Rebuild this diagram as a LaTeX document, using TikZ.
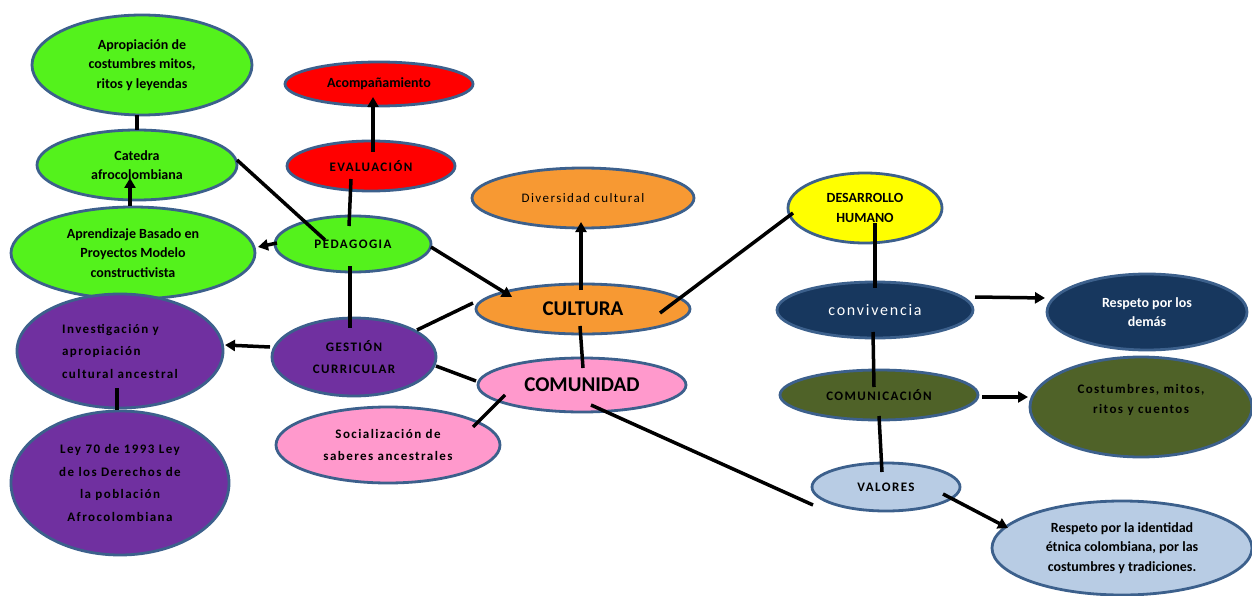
\documentclass[tikz,border=0pt]{standalone}
\usepackage{fontspec}
\setmainfont{Carlito}
\newfontfamily\spfont{Carlito}[LetterSpace=11]
\usetikzlibrary{shapes.geometric,arrows.meta,calc}
\definecolor{bordc}{RGB}{60,96,140}
\definecolor{cgreen}{RGB}{84,242,28}
\definecolor{cred}{RGB}{255,0,0}
\definecolor{corange}{RGB}{247,153,51}
\definecolor{cpurple}{RGB}{112,48,160}
\definecolor{cpink}{RGB}{255,153,204}
\definecolor{cyellow}{RGB}{255,255,0}
\definecolor{cnavy}{RGB}{23,55,94}
\definecolor{colive}{RGB}{79,98,40}
\definecolor{clblue}{RGB}{184,204,228}
\begin{document}
\begin{tikzpicture}[x=1pt,y=-1pt,
  bub/.style={ellipse,draw=bordc,line width=2.8pt,inner sep=0pt,align=center,
    font=\bfseries\fontsize{14}{19.5}\selectfont},
  sp/.style={font=\spfont\bfseries\fontsize{13}{22.5}\selectfont},
  con/.style={line width=3.5pt,draw=black},
  arr/.style={con,-{Triangle[length=10pt,width=11pt]}},
]
\useasboundingbox[fill=white] (0,0) rectangle (1252,596);
% nodes
\node[bub,fill=cgreen,minimum width=220pt,minimum height=100pt] (apr) at (142,65) {Apropiación de\\costumbres mitos,\\ritos y leyendas};
\node[bub,fill=cred,minimum width=188pt,minimum height=44pt] (aco) at (379,84) {Acompañamiento};
\node[bub,sp,fill=cred,minimum width=168pt,minimum height=50pt] (eva) at (371,166) {EVALUACIÓN};
\node[bub,fill=cgreen,minimum width=200pt,minimum height=70pt] (cat) at (137,165) {Catedra\\afrocolombiana};
\node[bub,fill=cgreen,minimum width=244pt,minimum height=92pt] (abp) at (133,253) {Aprendizaje Basado en\\Proyectos Modelo\\constructivista};
\node[bub,sp,fill=cgreen,minimum width=156pt,minimum height=56pt] (ped) at (353,244) {PEDAGOGIA};
\node[bub,sp,font=\spfont\fontsize{13}{22.5}\selectfont,fill=corange,minimum width=222pt,minimum height=60pt] (div) at (583,198) {Diversidad cultural};
\node[bub,fill=corange,minimum width=214pt,minimum height=50pt,font=\bfseries\fontsize{21}{22}\selectfont] (cul) at (583,309) {CULTURA};
\node[bub,fill=cpink,minimum width=208pt,minimum height=54pt,font=\bfseries\fontsize{21}{22}\selectfont] (com) at (582,385) {COMUNIDAD};
\node[bub,sp,fill=cpurple,minimum width=164pt,minimum height=78pt] (ges) at (354,357) {GESTIÓN\\CURRICULAR};
\node[bub,sp,align=left,fill=cpurple,minimum width=206pt,minimum height=114pt] (inv) at (120,351) {Investigación y\\apropiación\\cultural ancestral};
\node[bub,sp,fill=cpurple,minimum width=218pt,minimum height=144pt] (ley) at (120,483) {Ley 70 de 1993 Ley\\de los Derechos de\\la población\\Afrocolombiana};
\node[bub,sp,fill=cpink,minimum width=224pt,minimum height=76pt] (soc) at (388,445) {Socialización de\\saberes ancestrales};
\node[bub,fill=cyellow,minimum width=154pt,minimum height=70pt] (des) at (865,208) {DESARROLLO\\HUMANO};
\node[bub,sp,font=\spfont\fontsize{16}{20}\selectfont,text=white,fill=cnavy,minimum width=196pt,minimum height=56pt] (cnv) at (875,310) {convivencia};
\node[bub,text=white,fill=cnavy,minimum width=200pt,minimum height=76pt] (rpd) at (1147,312) {Respeto por los\\demás};
\node[bub,sp,fill=colive,minimum width=198pt,minimum height=50pt] (cmc) at (879,395) {COMUNICACIÓN};
\node[bub,sp,fill=colive,minimum width=222pt,minimum height=100pt,font=\spfont\bfseries\fontsize{13}{20}\selectfont] (cos) at (1141,407) {Costumbres, mitos,\\ritos y cuentos\\[-10pt]\strut};
\node[bub,sp,fill=clblue,minimum width=148pt,minimum height=48pt] (val) at (886,487) {VALORES};
\node[bub,fill=clblue,minimum width=260pt,minimum height=94pt] (rid) at (1122,548) {Respeto por la identidad\\étnica colombiana, por las\\costumbres y tradiciones.};
% connectors
\draw[con] ($(apr.center)+(-5,50)$) -- ($(cat.center)+(0,-35)$);
\draw[arr] ($(abp.center)+(-3,-47)$) -- ($(cat.center)+(-7,13)$);
\draw[arr] ($(eva.center)+(2,-14)$) -- ($(aco.center)+(-6,13)$);
\draw[con] ($(eva.center)+(-20,13)$) -- ($(ped.center)+(-4,-18)$);
\draw[con] ($(cat.center)+(100,-5)$) -- ($(ped.center)+(-28,-4)$);
\draw[arr] ($(ped.center)+(-76,-1)$) -- ($(abp.center)+(125,-6)$);
\draw[con] ($(ped.center)+(-3,22)$) -- ($(ges.center)+(-4,-29)$);
\draw[arr] ($(ped.center)+(78,3)$) -- ($(cul.center)+(-71,-12)$);
\draw[arr] ($(ges.center)+(-84,-10)$) -- ($(inv.center)+(105,-6)$);
\draw[con] ($(inv.center)+(-3,37)$) -- ($(ley.center)+(-3,-73)$);
\draw[con] ($(ges.center)+(63,-27)$) -- ($(cul.center)+(-110,-6)$);
\draw[con] ($(ges.center)+(82,9)$) -- ($(com.center)+(-106,-4)$);
\draw[con] ($(soc.center)+(85,-18)$) -- ($(com.center)+(-77,10)$);
\draw[arr] ($(cul.center)+(-2,-19)$) -- ($(div.center)+(-2,24)$);
\draw[con] ($(cul.center)+(-3,17)$) -- ($(com.center)+(1,-17)$);
\draw[con] ($(cul.center)+(77,4)$) -- ($(des.center)+(-72,5)$);
\draw[con] ($(com.center)+(9,20)$) -- ($(val.center)+(-73,18)$);
\draw[con] ($(des.center)+(10,15)$) -- ($(cnv.center)+(0,-22)$);
\draw[arr] ($(cnv.center)+(100,-13)$) -- ($(rpd.center)+(-102,-14)$);
\draw[con] ($(cnv.center)+(-2,22)$) -- ($(cmc.center)+(-5,-8)$);
\draw[arr] ($(cmc.center)+(103,2)$) -- ($(cos.center)+(-113,-10)$);
\draw[con] ($(cmc.center)+(0,21)$) -- ($(val.center)+(-4,-15)$);
\draw[arr] ($(val.center)+(57,7)$) -- ($(rid.center)+(-114,-20)$);
\end{tikzpicture}
\end{document}
